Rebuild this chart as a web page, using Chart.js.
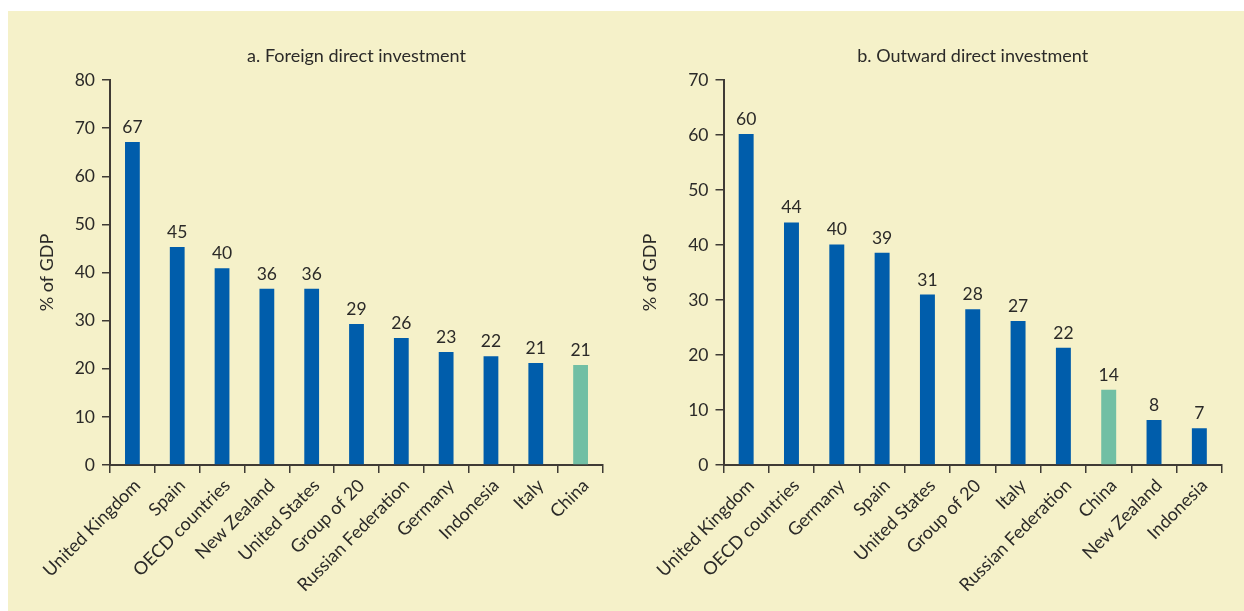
<!DOCTYPE html>
<html>
<head>
<meta charset="utf-8">
<script src="https://cdn.jsdelivr.net/npm/chart.js@4.4.0/dist/chart.umd.min.js"></script>
<style>
  html, body { margin: 0; padding: 0; background: #fff; }
  #panel { position: absolute; left: 8px; top: 11px; width: 1236px; height: 600px; background: #f5f1c9; }
  .box { position: absolute; top: 0; height: 611px; }
  #left { left: 0; width: 620px; }
  #right { left: 620px; width: 624px; }
</style>
</head>
<body>
<div id="panel"></div>
<div class="box" id="left"><canvas id="fdiChart"></canvas></div>
<div class="box" id="right"><canvas id="odiChart"></canvas></div>
<script>
// a. Foreign direct investment (% of GDP)
const fdiCountries = ['United Kingdom', 'Spain', 'OECD countries', 'New Zealand', 'United States',
  'Group of 20', 'Russian Federation', 'Germany', 'Indonesia', 'Italy', 'China'];
const fdiValues = [67.1, 45.3, 40.9, 36.6, 36.6, 29.3, 26.4, 23.5, 22.6, 21.2, 20.8];
const fdiLabels = ['67', '45', '40', '36', '36', '29', '26', '23', '22', '21', '21'];

// b. Outward direct investment (% of GDP)
const odiCountries = ['United Kingdom', 'OECD countries', 'Germany', 'Spain', 'United States',
  'Group of 20', 'Italy', 'Russian Federation', 'China', 'New Zealand', 'Indonesia'];
const odiValues = [60.2, 44.1, 40.1, 38.6, 31.0, 28.3, 26.2, 21.3, 13.7, 8.2, 6.7];
const odiLabels = ['60', '44', '40', '39', '31', '28', '27', '22', '14', '8', '7'];

const BLUE = '#005dab';
const GREEN = '#71bfa4';
const TEXT = '#2b2a28';
const AXIS = '#3f3b35';
const FONT = 'Lato';

// draw the rounded value above each bar
const valueLabels = {
  id: 'valueLabels',
  afterDatasetsDraw(chart, args, opts) {
    const ctx = chart.ctx;
    const meta = chart.getDatasetMeta(0);
    ctx.save();
    ctx.font = '17.5px ' + FONT;
    ctx.fillStyle = TEXT;
    ctx.textAlign = 'center';
    ctx.textBaseline = 'alphabetic';
    meta.data.forEach((bar, i) => {
      ctx.fillText(opts.texts[i], bar.x, bar.y - 9);
    });
    ctx.restore();
  }
};

function makeChart(id, title, countries, values, labels, yMax, axisWidth, padRight, yTitlePad) {
  const ctx = document.getElementById(id).getContext('2d');
  return new Chart(ctx, {
    type: 'bar',
    data: {
      labels: countries,
      datasets: [{
        data: values,
        backgroundColor: countries.map(c => c === 'China' ? GREEN : BLUE),
        barPercentage: 0.33,
        categoryPercentage: 1
      }]
    },
    plugins: [valueLabels],
    options: {
      responsive: true,
      maintainAspectRatio: false,
      animation: false,
      layout: { padding: { left: 0, right: padRight, top: 0, bottom: 0 } },
      plugins: {
        legend: { display: false },
        tooltip: { enabled: false },
        title: {
          display: true,
          fullSize: false,  // center over the plot area, not the canvas
          text: title,
          color: TEXT,
          font: { family: FONT, size: 18, weight: 'normal' },
          padding: { top: 45, bottom: 13.4 }
        },
        valueLabels: { texts: labels }
      },
      scales: {
        x: {
          offset: true,
          afterFit: s => { s.height = 146; },
          grid: { offset: true, drawOnChartArea: false, drawTicks: true, tickLength: 8, color: AXIS, lineWidth: 1.5 },
          border: { display: true, color: AXIS, width: 2 },
          ticks: {
            color: TEXT,
            font: { family: FONT, size: 18 },
            minRotation: 45,
            maxRotation: 45,
            autoSkip: false,
            labelOffset: 5,
            padding: 2
          }
        },
        y: {
          min: 0,
          max: yMax,
          afterFit: s => { s.width = axisWidth; },
          grid: { drawOnChartArea: false, drawTicks: true, tickLength: 8, color: AXIS, lineWidth: 1.5 },
          border: { display: true, color: AXIS, width: 2 },
          ticks: {
            stepSize: 10,
            color: TEXT,
            font: { family: FONT, size: 17.5 },
            padding: 7
          },
          title: {
            display: true,
            text: '% of GDP',
            color: TEXT,
            font: { family: FONT, size: 18 },
            padding: { top: yTitlePad, bottom: 0 }
          }
        }
      }
    }
  });
}

makeChart('fdiChart', 'a. Foreign direct investment', fdiCountries, fdiValues, fdiLabels, 80, 110, 17, 36);
makeChart('odiChart', 'b. Outward direct investment', odiCountries, odiValues, odiLabels, 70, 103.5, 22, 19);
</script>
</body>
</html>
